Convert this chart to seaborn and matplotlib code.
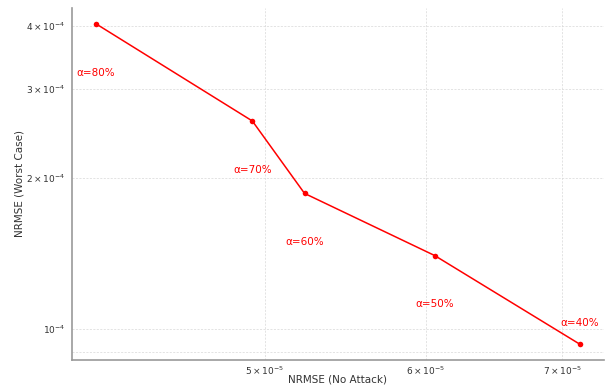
import matplotlib
matplotlib.use("Agg")
import matplotlib.pyplot as plt
import seaborn as sns
import pandas as pd

# -------------------------------
# Data
# -------------------------------
alphas = ["α=80%", "α=70%", "α=60%", "α=50%", "α=40%"]
nrmse_no_attack = [4.13e-5, 4.93e-5, 5.23e-5, 6.06e-5, 7.14e-5]
nrmse_worst = [4.04e-4, 2.59e-4, 1.86e-4, 1.40e-4, 0.934e-4]
label_factor = [0.8, 0.8, 0.8, 0.8, 1.1]

df = pd.DataFrame({"x": nrmse_no_attack, "y": nrmse_worst, "label": alphas})

# -------------------------------
# Style
# -------------------------------
sns.set_style("white")
plt.rcParams["font.family"] = ["DejaVu Sans"]
plt.rcParams["font.size"] = 7.5

fig, ax = plt.subplots(figsize=(6.08, 3.88), dpi=100)

sns.lineplot(data=df, x="x", y="y", ax=ax, color="red", linewidth=1.1,
             marker="o", markersize=4, markeredgewidth=0, sort=False)

ax.set_xscale("log")
ax.set_yscale("log")

for xv, yv, lab, f in zip(df["x"], df["y"], df["label"], label_factor):
    ax.text(xv, yv * f, lab, color="red", ha="center", va="center", fontsize=7.5)

ax.grid(True, which="both", linestyle=(0, (3, 2)), linewidth=0.5, color="#d8d8d8")
ax.set_xlabel("NRMSE (No Attack)", fontsize=7.5, color="#333333")
ax.set_ylabel("NRMSE (Worst Case)", fontsize=7.5, color="#333333")
ax.xaxis.set_label_coords(0.5, -0.042)
ax.yaxis.set_label_coords(-0.088, 0.5)
ax.tick_params(axis="both", which="both", labelsize=6.5, colors="#333333", length=2)
ax.tick_params(axis="x", which="both", pad=1.5)
ax.tick_params(axis="y", which="both", pad=2.5)

for side in ["top", "right"]:
    ax.spines[side].set_visible(False)
for side in ["left", "bottom"]:
    ax.spines[side].set_color("#999999")
    ax.spines[side].set_linewidth(1.2)

fig.subplots_adjust(left=0.118, right=0.993, bottom=0.072, top=0.98)
fig.savefig("out.png", dpi=100)
